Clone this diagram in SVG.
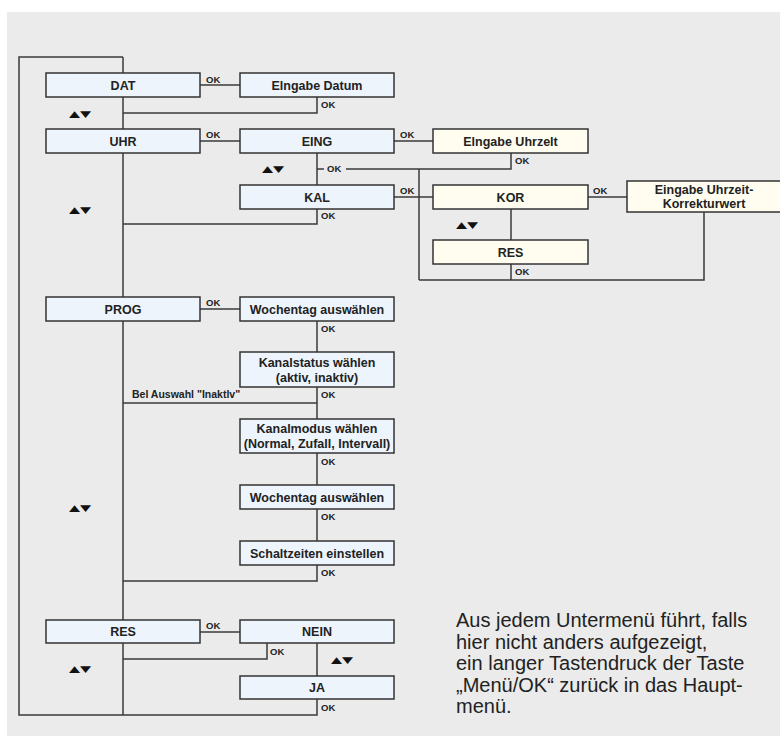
<svg xmlns="http://www.w3.org/2000/svg" width="780" height="738" viewBox="0 0 780 738">
<style>
.bx{fill:#EDF4FC;stroke:#333;stroke-width:1.5}
.cr{fill:#FFFDF0;stroke:#333;stroke-width:1.5}
.t{font-family:"Liberation Sans",Arial,sans-serif;font-weight:bold;font-size:12.5px;fill:#222;text-anchor:middle}
.ok{font-family:"Liberation Sans",Arial,sans-serif;font-weight:bold;font-size:9.5px;fill:#222}
.ar{font-family:"DejaVu Sans",sans-serif;font-size:12px;fill:#111;text-anchor:middle}
.c path{fill:none;stroke:#3a3a3a;stroke-width:1.5}
.note{font-family:"Liberation Sans",Arial,sans-serif;font-size:20px;fill:#222}
</style>
<rect x="0" y="0" width="780" height="738" fill="#fff"/>
<rect x="7" y="12" width="773" height="724" fill="#EBEBEB"/>
<g class="c" id="connectors">
<path d="M123,57 H19 V715 H317 V699"/>
<path d="M123,57 V715"/>
<path d="M200,85 H240"/>
<path d="M317,97 V113 H123"/>
<path d="M200,141 H240"/>
<path d="M394,141 H433"/>
<path d="M317,153 V185"/>
<path d="M511,153 V169 H346"/>
<path d="M324,169 H317"/>
<path d="M419,169 V280"/>
<path d="M394,197 H433"/>
<path d="M588,197 H627"/>
<path d="M511,209 V240"/>
<path d="M511,264 V280"/>
<path d="M419,280 H704 V212"/>
<path d="M317,209 V224 H123"/>
<path d="M200,309 H240"/>
<path d="M317,321 V352"/>
<path d="M317,387 V419"/>
<path d="M317,453 V485"/>
<path d="M317,509 V541"/>
<path d="M317,403 H123"/>
<path d="M317,565 V581 H123"/>
<path d="M200,632 H240"/>
<path d="M267,643 V659 H123"/>
<path d="M317,643 V676"/>
</g>
<g id="labels">
<text class="ok" x="206" y="83">OK</text>
<text class="ok" x="321" y="108">OK</text>
<text class="ok" x="206" y="138">OK</text>
<text class="ok" x="327" y="172">OK</text>
<text class="ok" x="400" y="138">OK</text>
<text class="ok" x="515" y="164">OK</text>
<text class="ok" x="400" y="194">OK</text>
<text class="ok" x="593" y="194">OK</text>
<text class="ok" x="321" y="219">OK</text>
<text class="ok" x="515" y="275">OK</text>
<text class="ok" x="206" y="306">OK</text>
<text class="ok" x="321" y="332">OK</text>
<text class="ok" x="321" y="398">OK</text>
<text class="ok" x="132" y="398" style="font-size:10.5px">Bel Auswahl "Inaktlv"</text>
<text class="ok" x="321" y="465">OK</text>
<text class="ok" x="321" y="520">OK</text>
<text class="ok" x="321" y="576">OK</text>
<text class="ok" x="206" y="629">OK</text>
<text class="ok" x="270" y="655">OK</text>
<text class="ok" x="321" y="711">OK</text>
<text class="ar" transform="translate(80,117) scale(1.2,0.75)">▲▼</text>
<text class="ar" transform="translate(80,213) scale(1.2,0.75)">▲▼</text>
<text class="ar" transform="translate(273,172) scale(1.2,0.75)">▲▼</text>
<text class="ar" transform="translate(467,228) scale(1.2,0.75)">▲▼</text>
<text class="ar" transform="translate(80,511) scale(1.2,0.75)">▲▼</text>
<text class="ar" transform="translate(80,672) scale(1.2,0.75)">▲▼</text>
<text class="ar" transform="translate(342,663) scale(1.2,0.75)">▲▼</text>
</g>
<g id="n-dat"><rect class="bx" x="46" y="73" width="154" height="24"/><text class="t" x="123" y="89.5">DAT</text></g>
<g id="n-eingabe-datum"><rect class="bx" x="240" y="73" width="154" height="24"/><text class="t" x="317" y="89.5">Elngabe Datum</text></g>
<g id="n-uhr"><rect class="bx" x="46" y="129" width="154" height="24"/><text class="t" x="123" y="145.5">UHR</text></g>
<g id="n-eing"><rect class="bx" x="240" y="129" width="154" height="24"/><text class="t" x="317" y="145.5">EING</text></g>
<g id="n-eingabe-uhrzeit"><rect class="cr" x="433" y="129" width="155" height="24"/><text class="t" x="510.5" y="145.5">Elngabe Uhrzelt</text></g>
<g id="n-kal"><rect class="bx" x="240" y="185" width="154" height="24"/><text class="t" x="317" y="201.5">KAL</text></g>
<g id="n-kor"><rect class="cr" x="433" y="185" width="155" height="24"/><text class="t" x="510.5" y="201.5">KOR</text></g>
<g id="n-korrektur"><rect class="cr" x="627" y="181" width="155" height="31"/><text class="t" x="704" y="194">Eingabe Uhrzeit-</text><text class="t" x="704" y="207.5">Korrekturwert</text></g>
<g id="n-res-kor"><rect class="cr" x="433" y="240" width="155" height="24"/><text class="t" x="510.5" y="256.5">RES</text></g>
<g id="n-prog"><rect class="bx" x="46" y="297" width="154" height="24"/><text class="t" x="123" y="313.5">PROG</text></g>
<g id="n-wochentag1"><rect class="bx" x="240" y="297" width="154" height="24"/><text class="t" x="317" y="313.5">Wochentag auswählen</text></g>
<g id="n-kanalstatus"><rect class="bx" x="240" y="352" width="154" height="35"/><text class="t" x="317" y="366.5">Kanalstatus wählen</text><text class="t" x="317" y="381.5">(aktiv, inaktiv)</text></g>
<g id="n-kanalmodus"><rect class="bx" x="240" y="419" width="154" height="34"/><text class="t" x="317" y="433">Kanalmodus wählen</text><text class="t" x="317" y="448">(Normal, Zufall, Intervall)</text></g>
<g id="n-wochentag2"><rect class="bx" x="240" y="485" width="154" height="24"/><text class="t" x="317" y="501.5">Wochentag auswählen</text></g>
<g id="n-schaltzeiten"><rect class="bx" x="240" y="541" width="154" height="24"/><text class="t" x="317" y="557.5">Schaltzeiten einstellen</text></g>
<g id="n-res"><rect class="bx" x="46" y="620" width="154" height="23"/><text class="t" x="123" y="636">RES</text></g>
<g id="n-nein"><rect class="bx" x="240" y="620" width="154" height="23"/><text class="t" x="317" y="636">NEIN</text></g>
<g id="n-ja"><rect class="bx" x="240" y="676" width="154" height="23"/><text class="t" x="317" y="692">JA</text></g>
<g id="note">
<text class="note" x="456" y="627">Aus jedem Untermenü führt, falls</text>
<text class="note" x="456" y="648.5">hier nicht anders aufgezeigt,</text>
<text class="note" x="456" y="670">ein langer Tastendruck der Taste</text>
<text class="note" x="456" y="691.5">„Menü/OK“ zurück in das Haupt-</text>
<text class="note" x="456" y="713">menü.</text>
</g>
</svg>
